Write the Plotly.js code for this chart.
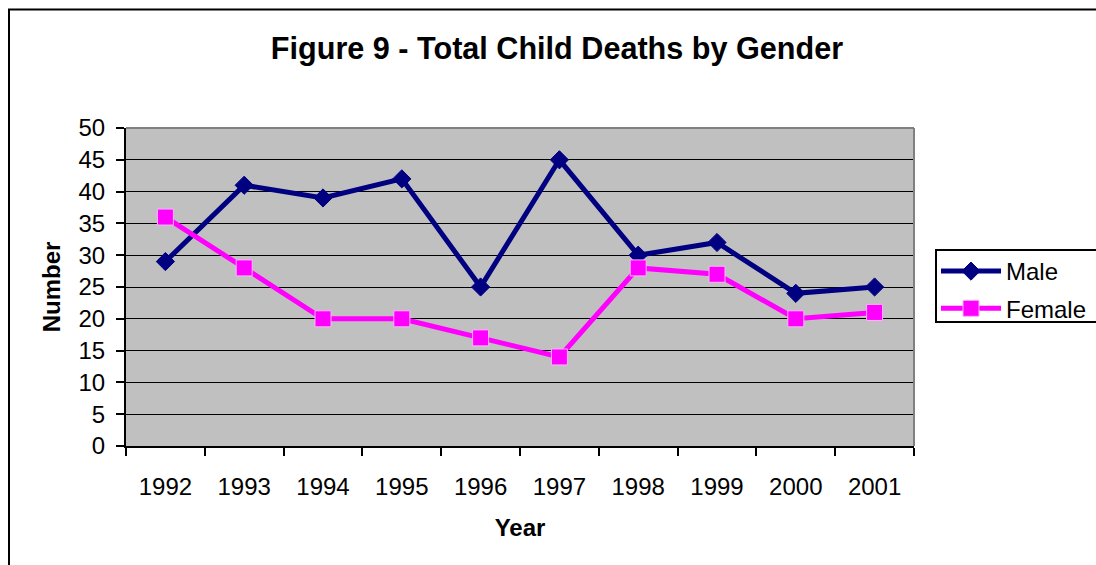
<!DOCTYPE html>
<html>
<head>
<meta charset="utf-8">
<script src="https://cdn.plot.ly/plotly-3.0.1.min.js"></script>
<style>html,body{margin:0;padding:0;background:#fff;}#chart{width:1096px;height:565px;}</style>
</head>
<body>
<div id="chart"></div>
<script>
const years = ["1992","1993","1994","1995","1996","1997","1998","1999","2000","2001"];
const male = [29, 41, 39, 42, 25, 45, 30, 32, 24, 25];
const female = [36, 28, 20, 20, 17, 14, 28, 27, 20, 21];
const yTicks = [0,5,10,15,20,25,30,35,40,45,50];

const FONT = "Arial, 'Liberation Sans', sans-serif";
const L = 126, R = 1096 - 914, T = 128, B = 565 - 446;
const PW = 1096 - L - R, PH = 565 - T - B;
const px = x => (x - L) / PW;
const py = y => 1 - (y - T) / PH;

const traces = [
  {x: years, y: male, name: "Male", type: "scatter", mode: "lines+markers",
   legendgroup: "m",
   line: {color: "#000080", width: 5},
   marker: {symbol: "diamond", size: 14, color: "#000080", line: {color: "#000080", width: 1}}},
  {x: years, y: female, name: "Female", type: "scatter", mode: "lines+markers",
   legendgroup: "f",
   line: {color: "#FF00FF", width: 5},
   marker: {symbol: "square", size: 16, color: "#FF00FF", line: {color: "#FFB0FF", width: 1}}}
];

const layout = {
  width: 1096, height: 565,
  margin: {l: L, r: R, t: T, b: B, pad: 0, autoexpand: false},
  paper_bgcolor: "#FFFFFF",
  plot_bgcolor: "#C0C0C0",
  font: {family: FONT, size: 24, color: "#000"},
  showlegend: true,
  title: {text: "<b>Figure 9 - Total Child Deaths by Gender</b>", font: {family: FONT, size: 30.6, color: "#000"},
          x: px(557), xref: "paper", xanchor: "center", y: 1 - 48/565, yref: "container", yanchor: "middle"},
  xaxis: {type: "category", tickson: "boundaries", range: [-0.5, 9.5],
          showline: true, linecolor: "#000", linewidth: 2,
          ticks: "outside", ticklen: 8, tickwidth: 2, tickcolor: "#000",
          showgrid: false, zeroline: false, ticklabelstandoff: 18,
          tickfont: {family: FONT, size: 24},
          title: {text: "<b>Year</b>", font: {family: FONT, size: 24}, standoff: 20},
          fixedrange: true},
  yaxis: {range: [0, 50], tickvals: yTicks, ticktext: yTicks.map(String),
          showline: true, linecolor: "#000", linewidth: 2,
          ticks: "outside", ticklen: 8, tickwidth: 2, tickcolor: "#000",
          showgrid: true, gridcolor: "#000", gridwidth: 1, zeroline: false,
          ticklabelstandoff: 6,
          tickfont: {family: FONT, size: 24},
          title: {text: "<b>Number</b>", font: {family: FONT, size: 24}, standoff: 11},
          fixedrange: true},
  legend: {x: px(936), xanchor: "left", y: py(249), yanchor: "top",
           bgcolor: "rgba(0,0,0,0)", borderwidth: 0,
           font: {family: FONT, size: 24, color: "#000"},
           tracegroupgap: 3, itemwidth: 60},
  shapes: [
    {type: "line", xref: "paper", yref: "paper", x0: 0, x1: 1, y0: 1, y1: 1, line: {color: "#808080", width: 2}},
    {type: "line", xref: "paper", yref: "paper", x0: 1, x1: 1, y0: 0, y1: 1, line: {color: "#808080", width: 2}},
    {type: "line", xref: "paper", yref: "paper", x0: px(9), x1: px(9), y0: py(570), y1: py(9.5), line: {color: "#000", width: 2}},
    {type: "line", xref: "paper", yref: "paper", x0: px(8), x1: px(1100), y0: py(9.5), y1: py(9.5), line: {color: "#000", width: 2}},
    {type: "rect", xref: "paper", yref: "paper", x0: px(936), x1: px(1104), y0: py(322), y1: py(250),
     fillcolor: "#FFFFFF", line: {color: "#000", width: 2}}
  ]
};

Plotly.newPlot("chart", traces, layout, {displayModeBar: false, staticPlot: true});
</script>
</body>
</html>
